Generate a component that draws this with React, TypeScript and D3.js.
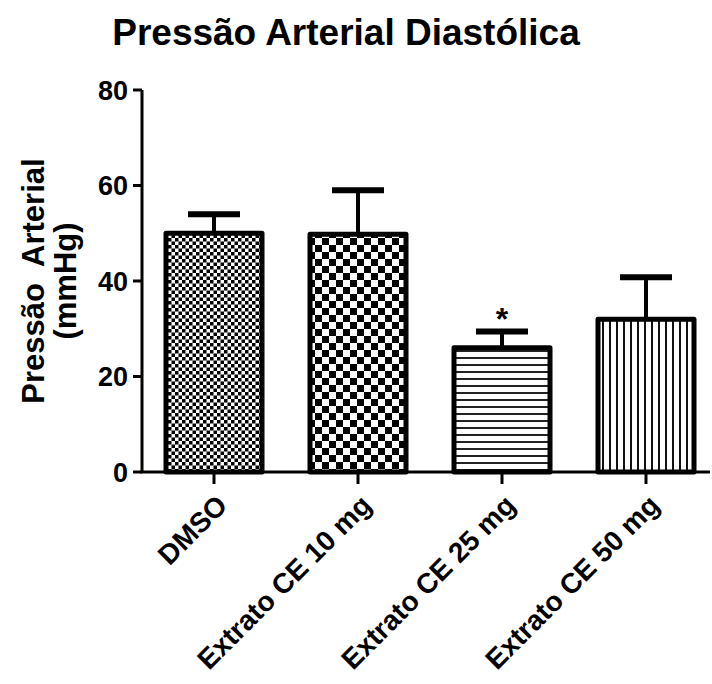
import React from "react";
import * as d3 from "d3";

const categories = ["DMSO", "Extrato CE 10 mg", "Extrato CE 25 mg", "Extrato CE 50 mg"];
const means = [50, 49.8, 26, 32];
const errors = [4, 9.2, 3.4, 8.8];
const patterns = ["fineCheck", "coarseCheck", "hLines", "vLines"];
const significance = ["", "", "*", ""];
const yTicks = [0, 20, 40, 60, 80];

const W = 712;
const H = 684;
const FONT = "'Liberation Sans', Arial, Helvetica, sans-serif";

export default function App() {
  const x = d3
    .scaleBand<string>()
    .domain(categories)
    .range([142, 718])
    .paddingInner(1 / 3)
    .paddingOuter(1 / 6);
  const y = d3.scaleLinear().domain([0, 80]).range([472, 90]);
  const bw = x.bandwidth();
  const capHalf = 26;

  return (
    <svg
      width={W}
      height={H}
      style={{ position: "absolute", left: 0, top: 0, background: "#fff" }}
      fontFamily={FONT}
    >
      <defs>
        <pattern id="fineCheck" width={7} height={7} patternUnits="userSpaceOnUse">
          <rect width={7} height={7} fill="#fff" />
          <rect width={3.5} height={3.5} fill="#000" />
          <rect x={3.5} y={3.5} width={3.5} height={3.5} fill="#000" />
        </pattern>
        <pattern id="coarseCheck" width={14} height={14} patternUnits="userSpaceOnUse">
          <rect width={14} height={14} fill="#fff" />
          <rect width={7} height={7} fill="#000" />
          <rect x={7} y={7} width={7} height={7} fill="#000" />
        </pattern>
        <pattern id="hLines" width={7} height={7} patternUnits="userSpaceOnUse">
          <rect width={7} height={7} fill="#fff" />
          <rect width={7} height={2} fill="#222" />
        </pattern>
        <pattern id="vLines" width={7} height={7} patternUnits="userSpaceOnUse">
          <rect width={7} height={7} fill="#fff" />
          <rect width={2} height={7} fill="#111" />
        </pattern>
      </defs>

      <text x={346} y={45} textAnchor="middle" fontSize={37} fontWeight="bold">
        Pressão Arterial Diastólica
      </text>

      {/* y-axis title */}
      <g transform={`translate(0, ${(y(0) + y(80)) / 2}) rotate(-90)`}>
        <text x={0} y={44} textAnchor="middle" fontSize={31} fontWeight="bold" xmlSpace="preserve">
          {"Pressão  Arterial"}
        </text>
        <text x={0} y={76} textAnchor="middle" fontSize={31} fontWeight="bold">
          (mmHg)
        </text>
      </g>

      {/* bars */}
      {categories.map((c, i) => {
        const x0 = x(c)!;
        const cx = x0 + bw / 2;
        const top = y(means[i]);
        const errTop = y(means[i] + errors[i]);
        return (
          <g key={c}>
            <line x1={cx} x2={cx} y1={top} y2={errTop} stroke="#000" strokeWidth={4} />
            <line
              x1={cx - capHalf}
              x2={cx + capHalf}
              y1={errTop}
              y2={errTop}
              stroke="#000"
              strokeWidth={6}
            />
            <rect
              x={x0}
              y={top}
              width={bw}
              height={y(0) - top}
              fill={`url(#${patterns[i]})`}
              stroke="#000"
              strokeWidth={5}
              strokeLinejoin="round"
            />
            {significance[i] && (
              <text x={cx} y={errTop - 2} textAnchor="middle" fontSize={32} fontWeight="bold">
                {significance[i]}
              </text>
            )}
          </g>
        );
      })}

      {/* y axis */}
      <line x1={142} x2={142} y1={y(80)} y2={y(0)} stroke="#000" strokeWidth={3} />
      {yTicks.map((t) => (
        <g key={t}>
          <line x1={133} x2={142} y1={y(t)} y2={y(t)} stroke="#000" strokeWidth={3} />
          <text x={128} y={y(t)} dy="0.36em" textAnchor="end" fontSize={27} fontWeight="bold">
            {t}
          </text>
        </g>
      ))}

      {/* x axis */}
      <line x1={140.5} x2={710} y1={y(0)} y2={y(0)} stroke="#000" strokeWidth={3} />
      {categories.map((c) => {
        const cx = x(c)! + bw / 2;
        return (
          <g key={c}>
            <line x1={cx} x2={cx} y1={y(0)} y2={y(0) + 12} stroke="#000" strokeWidth={3} />
            <text
              transform={`translate(${cx + 15}, ${y(0) + 35}) rotate(-45)`}
              textAnchor="end"
              fontSize={28}
              fontWeight="bold"
            >
              {c}
            </text>
          </g>
        );
      })}
    </svg>
  );
}
